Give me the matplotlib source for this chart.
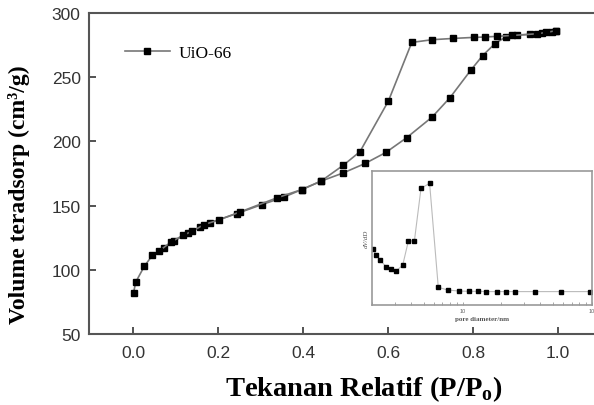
import numpy as np
import matplotlib.pyplot as plt

# adsorption branch (P/Po, volume)
ads_p = [0.001, 0.006, 0.026, 0.045, 0.073, 0.095, 0.128, 0.158, 0.181, 0.244,
         0.303, 0.354, 0.397, 0.442, 0.495, 0.546, 0.595, 0.644, 0.704, 0.746,
         0.795, 0.823, 0.852, 0.878, 0.903, 0.934, 0.962, 0.985, 0.995]
ads_v = [82.3, 90.4, 102.6, 111.2, 117.2, 122.1, 128.6, 133.3, 136.7, 143.8,
         150.8, 156.5, 162.5, 169.0, 175.5, 182.8, 191.4, 202.9, 219.0, 234.1,
         255.5, 266.9, 276.2, 281.5, 282.8, 283.3, 284.4, 285.5, 286.2]

# desorption branch
des_p = [0.995, 0.973, 0.950, 0.891, 0.856, 0.828, 0.802, 0.754, 0.704, 0.656,
         0.601, 0.534, 0.495, 0.442, 0.397, 0.338, 0.252, 0.201, 0.167, 0.138,
         0.117, 0.089, 0.061]
des_v = [286.2, 284.9, 283.8, 282.5, 281.8, 281.3, 281.0, 280.2, 279.2, 277.1,
         231.5, 192.0, 181.5, 169.0, 162.5, 156.0, 145.1, 138.8, 135.2, 129.9,
         126.8, 121.6, 114.6]

# pore size distribution (inset)
pore_d = [2.04, 2.16, 2.32, 2.57, 2.80, 3.08, 3.45, 3.82, 4.25, 4.78, 5.57, 6.50,
          7.68, 9.40, 11.3, 13.1, 15.3, 18.5, 21.8, 25.6, 36.3, 58.0, 97.0]
dvdd = [0.415, 0.373, 0.333, 0.286, 0.271, 0.256, 0.296, 0.478, 0.478, 0.871,
        0.908, 0.132, 0.112, 0.104, 0.102, 0.102, 0.100, 0.100, 0.100, 0.100,
        0.100, 0.100, 0.100]

plt.rcParams['font.family'] = 'Liberation Sans'

fig = plt.figure(figsize=(5.94, 4.06), dpi=100)
ax = fig.add_axes([89/594, 1-335/406, 1-89/594, 321/406])

ax.plot(ads_p, ads_v, color='#777777', lw=1.2, marker='s', ms=5,
        mfc='black', mec='black', label='UiO-66')
ax.plot(des_p, des_v, color='#777777', lw=1.2, marker='s', ms=5,
        mfc='black', mec='black')

ax.set_xlim(-0.104, 1.085)
ax.set_ylim(50, 300)
ax.set_xticks([0.0, 0.2, 0.4, 0.6, 0.8, 1.0])
ax.set_yticks([50, 100, 150, 200, 250, 300])
ax.tick_params(direction='in', length=5, width=1.3, color='#444444',
               labelsize=12.5, labelcolor='#333333', pad=6)
ax.tick_params(axis='x', pad=8)
for s in ['left', 'bottom', 'top']:
    ax.spines[s].set_color('#555555')
    ax.spines[s].set_linewidth(1.5)
ax.spines['right'].set_visible(False)

ax.legend(loc='upper left', bbox_to_anchor=(0.04, 0.95), frameon=False,
          prop={'family': 'Liberation Serif', 'size': 12.5}, handlelength=2.6,
          handletextpad=0.5)

fig.text(19/594, 1-195/406, 'Volume teradsorp (cm³/g)', rotation=90,
         ha='center', va='center', family='Liberation Serif',
         fontweight='bold', fontsize=17)
fig.text(364/594, 1-389/406, 'Tekanan Relatif (P/P$_\\mathregular{o}$)',
         ha='center', va='center', family='Liberation Serif',
         fontweight='bold', fontsize=20.5)

# inset
ins = fig.add_axes([372/594, 1-306/406, 220/594, 134/406])
ins.plot(pore_d, dvdd, color='#bbbbbb', lw=0.8, marker='s', ms=2.5,
         mfc='black', mec='black')
ins.set_xscale('log')
ins.set_xlim(2, 100)
ins.set_ylim(0, 1)
ins.set_yticks([])
ins.set_xticks([10, 100])
ins.set_xticklabels(['10', '10'])
ins.tick_params(axis='x', which='both', direction='in', length=2, width=0.6,
                color='#999999', labelsize=4, labelcolor='#666666', pad=2)
for s in ins.spines.values():
    s.set_color('#999999')
    s.set_linewidth(1.2)
ins.set_xlabel('pore diameter/nm', family='Liberation Serif',
               fontweight='bold', fontsize=5, color='#555555', labelpad=2)
ins.set_ylabel('dV/dD', family='Liberation Serif', fontstyle='italic',
               fontsize=5, color='#555555', labelpad=2)

fig.savefig('out.png', dpi=100)
